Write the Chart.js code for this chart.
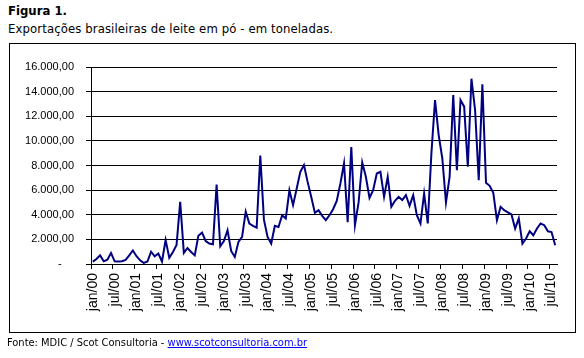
<!DOCTYPE html>
<html>
<head>
<meta charset="utf-8">
<script src="https://cdn.jsdelivr.net/npm/chart.js@4"></script>
<style>
  body { margin: 0; background: #fff; }
  #wrap { position: relative; width: 584px; height: 358px; overflow: hidden; }
  #title { position: absolute; left: 8px; top: 3px; font: bold 13px "DejaVu Sans Condensed", "DejaVu Sans", sans-serif; color: #000; }
  #subtitle { position: absolute; left: 8px; top: 21px; font: 13px "DejaVu Sans Condensed", "DejaVu Sans", sans-serif; letter-spacing: 0.1px; color: #000; }
  #frame { position: absolute; left: 9px; top: 43px; width: 565px; height: 288px; border: 1px solid #000; }
  #source { position: absolute; left: 7px; top: 336px; font: 11px "DejaVu Sans Condensed", "DejaVu Sans", sans-serif; color: #000; }
  #source a { color: #0000ff; }
  canvas { position: absolute; left: 0; top: 0; }
</style>
</head>
<body>
<div id="wrap">
  <div id="title">Figura 1.</div>
  <div id="subtitle">Exportações brasileiras de leite em pó - em toneladas.</div>
  <div id="frame"></div>
  <canvas id="chart1" width="584" height="358"></canvas>
  <div id="source">Fonte: MDIC / Scot Consultoria - <a href="#">www.scotconsultoria.com.br</a></div>
</div>
<script>
// toneladas por mês, jan/00 .. ago/10
const y2000 = [190, 400, 700, 220, 350, 900, 220, 200, 220, 330, 700, 1100];
const y2001 = [630, 300, 85, 200, 1000, 620, 850, 200, 1950, 500, 980, 1550];
const y2002 = [5050, 900, 1300, 980, 700, 2300, 2550, 1870, 1660, 1600, 6450, 1440];
const y2003 = [1870, 2740, 1060, 570, 1800, 2200, 4250, 3290, 3100, 2950, 8800, 3600];
const y2004 = [2200, 1660, 3100, 3000, 3960, 3690, 5990, 4780, 6130, 7490, 8030, 6670];
const y2005 = [5450, 4150, 4370, 3910, 3560, 3960, 4450, 5130, 6540, 8170, 3400, 9500];
const y2006 = [3150, 5000, 8250, 7080, 5370, 6000, 7350, 7490, 5450, 7080, 4640, 5130];
const y2007 = [5450, 5200, 5600, 4720, 5590, 3960, 3290, 5730, 3300, 9000, 13320, 10470];
const y2008 = [8570, 5000, 7080, 13730, 7620, 13320, 12780, 7900, 15050, 12510, 6800, 14600];
const y2009 = [6600, 6350, 5780, 3560, 4640, 4370, 4200, 4020, 2880, 3700, 1650, 2070];
const y2010 = [2660, 2340, 2880, 3290, 3150, 2660, 2600, 1520];

const years = ["00", "01", "02", "03", "04", "05", "06", "07", "08", "09", "10"];
const months = ["jan", "fev", "mar", "abr", "mai", "jun", "jul", "ago", "set", "out", "nov", "dez"];
const yTicks = [0, 2000, 4000, 6000, 8000, 10000, 12000, 14000, 16000];

const values = [].concat(y2000, y2001, y2002, y2003, y2004, y2005, y2006, y2007, y2008, y2009, y2010);
const labels = [];
years.forEach(y => months.forEach(m => labels.push(m + "/" + y)));
labels.length = values.length;

function fmt(v) {
  if (v === 0) return "-    ";
  const s = String(Math.round(v));
  return s.replace(/\B(?=(\d{3})+(?!\d))/g, ".") + ",00";
}

const ctx = document.getElementById("chart1");
new Chart(ctx, {
  type: "line",
  data: {
    labels: labels,
    datasets: [
      {
        data: values,
        borderColor: "#000080",
        borderWidth: 2,
        pointRadius: 0,
        tension: 0,
        fill: false,
      },
    ],
  },
  options: {
    responsive: false,
    animation: false,
    layout: { padding: { top: 67, right: 27, left: 0, bottom: 0 } },
    plugins: { legend: { display: false }, tooltip: { enabled: false } },
    scales: {
      x: {
        type: "category",
        offset: true,
        afterFit: s => { s.height = 94; },
        grid: {
          offset: true,
          drawOnChartArea: false,
          tickLength: 5,
          color: c => (c.index % 6 === 0 ? "#000" : "rgba(0,0,0,0)"),
          tickColor: c => (c.index % 6 === 0 ? "#000" : "rgba(0,0,0,0)"),
        },
        border: { display: true, color: "#000", width: 1 },
        ticks: {
          autoSkip: false,
          minRotation: 90,
          maxRotation: 90,
          padding: 4,
          color: "#000",
          font: { family: "Liberation Sans", size: 14 },
          callback: (v, i) => (i % 6 === 0 ? labels[i] : ""),
        },
      },
      y: {
        min: 0,
        max: 16000,
        afterFit: s => { s.width = 91; },
        afterBuildTicks: s => { s.ticks = yTicks.map(v => ({ value: v })); },
        grid: { color: "#000", lineWidth: 1, tickLength: 5 },
        border: { display: true, color: "#000", width: 1 },
        ticks: {
          padding: 12,
          color: "#000",
          font: { family: "Liberation Sans", size: 11 },
          callback: v => fmt(v),
        },
      },
    },
  },
});
</script>
</body>
</html>
